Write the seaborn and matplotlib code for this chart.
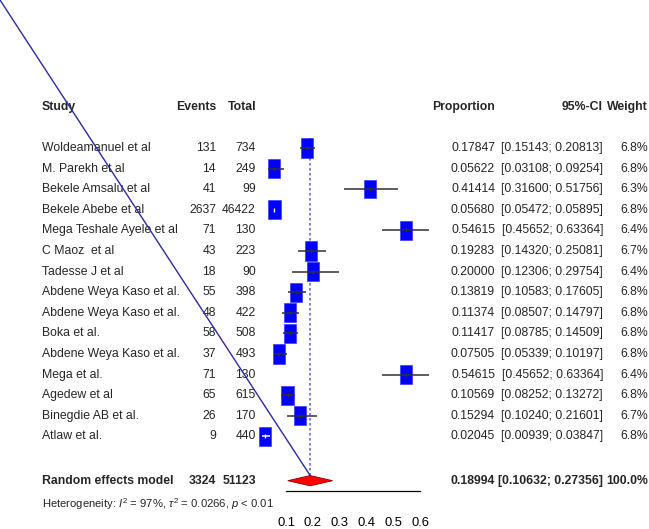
import matplotlib
matplotlib.use("Agg")
import matplotlib.pyplot as plt
from matplotlib import font_manager
from matplotlib.transforms import blended_transform_factory
import numpy as np
import pandas as pd
import seaborn as sns

studies = ["Woldeamanuel et al", "M. Parekh et al", "Bekele Amsalu et al", "Bekele Abebe et al",
           "Mega Teshale Ayele et al", "C Maoz  et al", "Tadesse J et al", "Abdene Weya Kaso et al.",
           "Abdene Weya Kaso et al.", "Boka et al.", "Abdene Weya Kaso et al.", "Mega et al.",
           "Agedew et al", "Binegdie AB et al.", "Atlaw et al."]
events = [131, 14, 41, 2637, 71, 43, 18, 55, 48, 58, 37, 71, 65, 26, 9]
totals = [734, 249, 99, 46422, 130, 223, 90, 398, 422, 508, 493, 130, 615, 170, 440]
prop = [0.17847, 0.05622, 0.41414, 0.05680, 0.54615, 0.19283, 0.20000, 0.13819,
        0.11374, 0.11417, 0.07505, 0.54615, 0.10569, 0.15294, 0.02045]
lower = [0.15143, 0.03108, 0.31600, 0.05472, 0.45652, 0.14320, 0.12306, 0.10583,
         0.08507, 0.08785, 0.05339, 0.45652, 0.08252, 0.10240, 0.00939]
upper = [0.20813, 0.09254, 0.51756, 0.05895, 0.63364, 0.25081, 0.29754, 0.17605,
         0.14797, 0.14509, 0.10197, 0.63364, 0.13272, 0.21601, 0.03847]
weights = [6.8, 6.8, 6.3, 6.8, 6.4, 6.7, 6.4, 6.8, 6.8, 6.8, 6.8, 6.4, 6.8, 6.7, 6.8]

pooled_events = 3324
pooled_total = 51123
pooled_prop = 0.18994
pooled_lower = 0.10632
pooled_upper = 0.27356
pooled_weight = 100.0
het_text = r"Heterogeneity: $I^2$ = 97%, $\tau^2$ = 0.0266, $p$ < 0.01"
tick_vals = [0.1, 0.2, 0.3, 0.4, 0.5, 0.6]

sns.set_style("white")

# narrow Arial-like font if present, else plain Liberation Sans
try:
    font_manager.findfont("Liberation Sans Narrow", fallback_to_default=False)
    fam = ["Liberation Sans Narrow", "DejaVu Sans"]
    fs = 10.5
except ValueError:
    fam = ["Liberation Sans", "DejaVu Sans"]
    fs = 8.8
plt.rcParams["font.family"] = fam
plt.rcParams["mathtext.fontset"] = "custom"
plt.rcParams["mathtext.rm"] = fam[0]
plt.rcParams["mathtext.it"] = fam[0] + ":italic"

W, H = 649, 529
fig = plt.figure(figsize=(W / 100, H / 100), dpi=100)

# layout in pixels
px_zero, px_per_unit = 259.2, 268.3
row0_px, row_step = 148, 20.6
xlim = (-0.07, 0.675)
ax_left = px_zero + xlim[0] * px_per_unit
ax_w = (xlim[1] - xlim[0]) * px_per_unit
ax = fig.add_axes([ax_left / W, 0, ax_w / W, 1])
ax.set_xlim(*xlim)
ax.set_ylim((H - row0_px) / row_step, -row0_px / row_step)
ax.patch.set_alpha(0)

n = len(studies)
df = pd.DataFrame({"study": studies, "events": events, "total": totals, "prop": prop,
                   "lower": lower, "upper": upper, "weight": weights})
df["row"] = np.arange(n)
pooled_row = 16.15
header_row = -1.98
het_row = 17.3
axis_row = 16.65

# squares (slightly taller than wide, like the squeezed original)
box_h_pt = 13.8 * np.sqrt(df["weight"] / 6.8)
rect = [(-0.32, -0.5), (0.32, -0.5), (0.32, 0.5), (-0.32, 0.5), (-0.32, -0.5)]
sns.scatterplot(data=df, x="prop", y="row", marker=rect, s=box_h_pt ** 2,
                color="#0000ff", edgecolor="#2a2aff", linewidth=0.4, ax=ax, zorder=3,
                legend=False)

# CI lines: white when the interval fits inside the box
box_half_units = (box_h_pt * 0.32 * 100 / 72) / px_per_unit
inside = ((df["upper"] - df["prop"]) < box_half_units) & ((df["prop"] - df["lower"]) < box_half_units)
ci_cols = np.where(inside, "white", "#303030")
ax.hlines(df["row"], df["lower"], df["upper"], colors=ci_cols, linewidth=1.1, zorder=4)
ax.vlines(df["prop"], df["row"] - 0.1, df["row"] + 0.1, colors=ci_cols, linewidth=1.0, zorder=4)

# random-effects line and diamond
ax.vlines(pooled_prop, -0.5, pooled_row, colors="#6a6ad0", linestyles=(0, (1.5, 1.5)),
          linewidth=1.2, zorder=2)
dh = 0.25
ax.fill([pooled_lower, pooled_prop, pooled_upper, pooled_prop],
        [pooled_row, pooled_row - dh, pooled_row, pooled_row + dh],
        facecolor="#ff0000", edgecolor="#8b0000", linewidth=0.6, zorder=3)

# x axis
sns.despine(ax=ax, left=True, top=True, right=True, bottom=False)
ax.spines["bottom"].set_position(("data", axis_row))
ax.spines["bottom"].set_bounds(tick_vals[0], tick_vals[-1])
ax.spines["bottom"].set_linewidth(0.9)
ax.spines["bottom"].set_color("black")
ax.set_xticks(tick_vals)
ax.set_xticklabels([f"{t:.1f}" for t in tick_vals], fontsize=fs + 0.6)
ax.tick_params(axis="x", direction="out", length=6.5, width=0.9, pad=12.5, colors="black")
ax.set_yticks([])
ax.set_xlabel("")
ax.set_ylabel("")

# text columns
tr = blended_transform_factory(fig.transFigure, ax.transData)
col = {"study": 42, "events": 216, "total": 256, "prop": 495, "ci": 603, "weight": 648}


def put(xpx, y, s, ha="right", bold=False, size=None):
    ax.text(xpx / W, y, s, transform=tr, ha=ha, va="center", fontsize=size or fs,
            fontweight="bold" if bold else "normal", clip_on=False)


put(col["study"], header_row, "Study", ha="left", bold=True)
put(col["events"], header_row, "Events", bold=True)
put(col["total"], header_row, "Total", bold=True)
put(col["prop"], header_row, "Proportion", bold=True)
put(col["ci"], header_row, "95%-CI", bold=True)
put(col["weight"], header_row, "Weight", bold=True)

for _, r in df.iterrows():
    put(col["study"], r["row"], r["study"], ha="left")
    put(col["events"], r["row"], f"{int(r['events'])}")
    put(col["total"], r["row"], f"{int(r['total'])}")
    put(col["prop"], r["row"], f"{r['prop']:.5f}")
    put(col["ci"], r["row"], f"[{r['lower']:.5f}; {r['upper']:.5f}]")
    put(col["weight"], r["row"], f"{r['weight']:.1f}%")

put(col["study"], pooled_row, "Random effects model", ha="left", bold=True)
put(col["events"], pooled_row, f"{pooled_events}", bold=True)
put(col["total"], pooled_row, f"{pooled_total}", bold=True)
put(col["prop"], pooled_row, f"{pooled_prop:.5f}", bold=True)
put(col["ci"], pooled_row, f"[{pooled_lower:.5f}; {pooled_upper:.5f}]", bold=True)
put(col["weight"], pooled_row, f"{pooled_weight:.1f}%", bold=True)
put(col["study"], het_row, het_text, ha="left", size=fs * 0.92)

# stray diagonal line from the top-left corner to the diamond
ax.annotate("", xy=(pooled_prop, pooled_row - dh), xycoords="data",
            xytext=(0, 1), textcoords="figure fraction",
            arrowprops=dict(arrowstyle="-", color="#2b2ba8", lw=1.0, shrinkA=0, shrinkB=0),
            zorder=5)

fig.savefig("out.png", dpi=100)
